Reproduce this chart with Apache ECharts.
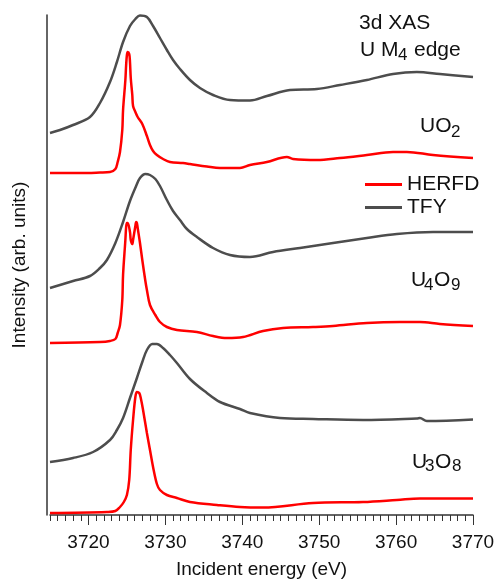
<!DOCTYPE html>
<html>
<head>
<meta charset="utf-8">
<script src="https://cdn.jsdelivr.net/npm/echarts@6/dist/echarts.min.js"></script>
<style>
  html, body { margin: 0; padding: 0; background: #fff; }
  #chart { width: 497px; height: 579px; }
</style>
</head>
<body>
<div id="chart"></div>
<script>
// energies (eV) / intensities (arb. units, offset per sample)
var uo2Tfy = [[3715,76.4],[3716.3,77.0],[3718.0,78.0],[3720.2,79.6],[3721.5,82.4],[3722.8,86.6],[3723.7,90.6],
  [3724.5,94.6],[3725.4,97.8],[3726.1,99.2],[3726.7,99.9],[3727.6,99.6],[3728.4,97.8],[3729.3,95.4],[3730.2,93.0],
  [3731.0,91.0],[3731.9,89.2],[3733.2,87.0],[3734.5,85.4],[3736.2,84.0],[3738.4,83.0],[3741.0,82.9],[3743.2,83.8],
  [3746.2,85.0],[3749.7,85.2],[3752.7,86.0],[3756.2,87.0],[3759.6,88.2],[3762.7,88.6],[3765.7,88.2],[3770.0,87.6]];

var uo2Herfd = [[3715,68.4],[3718.9,68.4],[3721.5,68.5],[3722.8,68.6],[3723.5,69.2],[3723.8,70.6],[3724.1,72.6],
  [3724.4,77.0],[3724.5,81.0],[3724.8,87.0],[3724.9,90.0],[3725.0,92.0],[3725.1,92.6],[3725.3,92.2],[3725.4,90.6],
  [3725.5,87.4],[3725.7,84.0],[3725.8,81.8],[3726.1,80.6],[3726.4,79.6],[3727.0,78.2],[3727.6,75.8],[3728.0,74.0],
  [3728.4,72.8],[3728.9,72.0],[3729.7,71.2],[3730.6,70.6],[3732.3,70.4],[3733.2,70.2],[3735.4,69.7],[3737.1,69.4],
  [3739.7,69.4],[3741.0,70.0],[3743.2,70.6],[3745.8,71.6],[3746.6,71.2],[3749.7,71.0],[3752.7,71.4],[3756.2,72.0],
  [3759.6,72.6],[3761.4,72.6],[3764.8,72.0],[3770.0,71.4]];

var u4o9Tfy = [[3715,45.4],[3718.0,46.8],[3720.2,47.8],[3721.5,49.4],[3722.4,51.0],[3723.5,54.4],[3724.5,58.6],
  [3725.4,62.8],[3726.2,65.8],[3726.7,67.4],[3727.4,68.2],[3728.0,68.0],[3728.7,67.2],[3729.3,65.8],[3730.2,63.0],
  [3731.0,60.8],[3731.9,59.0],[3732.8,57.2],[3734.1,55.6],[3736.2,53.4],[3738.4,52.0],[3741.0,51.6],[3744.0,52.6],
  [3747.5,53.4],[3751.8,54.4],[3756.2,55.4],[3760.1,56.2],[3764.8,56.6],[3770.0,56.6]];

var u4o9Herfd = [[3715,34.4],[3721.5,34.6],[3722.8,34.8],[3723.5,35.2],[3723.8,36.4],[3724.1,38.0],[3724.4,43.0],
  [3724.5,48.0],[3724.8,55.0],[3724.9,57.6],[3725.0,58.4],[3725.1,58.4],[3725.4,56.6],[3725.5,55.0],[3725.7,54.2],
  [3725.8,55.0],[3726.1,57.8],[3726.2,58.6],[3726.3,58.4],[3726.4,57.4],[3726.7,54.4],[3727.0,51.0],[3727.4,46.8],
  [3727.6,45.0],[3728.0,42.0],[3728.7,40.0],[3729.3,38.6],[3730.2,37.6],[3731.5,37.0],[3734.1,36.6],[3736.2,35.8],
  [3738.0,35.4],[3740.1,35.6],[3742.7,36.8],[3745.3,37.4],[3749.2,37.6],[3751.8,37.8],[3756.2,38.4],[3760.5,38.6],
  [3763.1,38.6],[3765.7,38.2],[3770.0,37.8]];

var u3o8Tfy = [[3715,10.6],[3718.0,11.4],[3720.6,12.6],[3722.8,15.0],[3723.7,17.0],[3724.5,19.4],[3725.4,23.4],
  [3726.3,27.4],[3727.0,30.6],[3727.6,33.0],[3728.3,34.2],[3728.9,34.2],[3729.7,33.4],[3730.6,32.0],[3731.5,30.4],
  [3733.2,27.2],[3735.4,24.4],[3737.1,22.6],[3739.7,21.2],[3741.0,20.4],[3744.9,19.4],[3749.2,19.2],[3755.7,19.0],
  [3762.7,19.3],[3763.1,19.4],[3764.0,18.8],[3770.0,19.1]];

var u3o8Herfd = [[3715,0.4],[3722.4,0.6],[3723.5,0.8],[3724.1,1.6],[3724.6,2.6],[3725.0,4.0],[3725.3,7.0],
  [3725.5,13.0],[3725.8,19.0],[3726.1,23.6],[3726.3,24.6],[3726.6,24.4],[3726.8,23.4],[3727.1,21.0],[3727.6,16.4],
  [3728.0,13.0],[3728.4,9.6],[3728.9,6.2],[3729.3,5.0],[3730.2,4.0],[3731.5,3.4],[3733.2,2.6],[3736.7,2.0],
  [3739.7,1.6],[3742.7,1.5],[3749.2,2.4],[3755.7,2.6],[3760.1,3.0],[3763.1,3.3],[3770.0,3.3]];

var majorTicks = [3720, 3730, 3740, 3750, 3760, 3770];

var RED = '#ff0000';
var GRAY = '#4d4d4d';
var FONT = '"Liberation Sans", Arial, sans-serif';

function line(name, data, color) {
    return {
        name: name,
        type: 'line',
        data: data,
        showSymbol: false,
        smooth: 0.35,
        xAxisIndex: 0,
        lineStyle: { color: color, width: 2.5 },
        itemStyle: { color: color }
    };
}

function label(txt, x, y, size) {
    return {
        type: 'text',
        style: {
            text: txt, x: x, y: y,
            font: size + 'px ' + FONT,
            fill: '#111',
            textAlign: 'left',
            textVerticalAlign: 'middle',
            verticalAlign: 'middle'
        }
    };
}

var myChart = echarts.init(document.getElementById('chart'));

var option = {
    animation: false,
    backgroundColor: '#fff',
    grid: { left: 50, right: 24, top: 15, bottom: 64, containLabel: false, outerBoundsMode: 'none' },
    legend: {
        data: ['HERFD', 'TFY'],
        orient: 'vertical',
        left: 360,
        top: 169,
        icon: 'rect',
        itemWidth: 37,
        itemHeight: 3,
        itemGap: 2,
        textStyle: { fontFamily: FONT, fontSize: 21, color: '#111', lineHeight: 21 }
    },
    xAxis: [
        {   // minor ticks every 1 eV
            type: 'value', position: 'bottom', min: 3715, max: 3770, interval: 1,
            axisLine: { show: true, lineStyle: { color: '#333', width: 1.5 } },
            axisTick: { show: true, length: 6, lineStyle: { color: '#333', width: 1 } },
            axisLabel: { show: false },
            splitLine: { show: false }
        },
        {   // major ticks + labels
            type: 'value', position: 'bottom', offset: 0, min: 3715, max: 3770,
            axisLine: { show: false },
            axisTick: { show: true, length: 10, customValues: majorTicks, lineStyle: { color: '#333', width: 1 } },
            axisLabel: {
                customValues: majorTicks, fontFamily: FONT, fontSize: 19, color: '#111', margin: 18,
                formatter: function (v) { return String(v); }
            },
            splitLine: { show: false },
            name: 'Incident energy (eV)',
            nameLocation: 'middle',
            nameGap: 45,
            nameTextStyle: { fontFamily: FONT, fontSize: 19, color: '#111' }
        }
    ],
    yAxis: {
        type: 'value', min: 0, max: 100,
        offset: 3,
        axisLine: { show: true, lineStyle: { color: '#333', width: 1.5 } },
        axisTick: { show: false },
        axisLabel: { show: false },
        splitLine: { show: false },
        name: 'Intensity (arb. units)',
        nameLocation: 'middle',
        nameGap: 18,
        nameTextStyle: { fontFamily: FONT, fontSize: 19, color: '#111' }
    },
    graphic: [
        label('3d XAS', 359, 23, 21),
        label('U M', 360, 50, 21),
        label('4', 398, 55, 17),
        label('edge', 414, 50, 21),
        label('UO', 420, 126, 21),
        label('2', 451, 132, 17),
        label('U', 411, 280, 21),
        label('4', 424, 285, 17),
        label('O', 434, 280, 21),
        label('9', 451, 285, 17),
        label('U', 412, 462, 21),
        label('3', 425, 466, 17),
        label('O', 435, 462, 21),
        label('8', 452, 466, 17)
    ],
    series: [
        line('TFY', uo2Tfy, GRAY),
        line('HERFD', uo2Herfd, RED),
        line('TFY', u4o9Tfy, GRAY),
        line('HERFD', u4o9Herfd, RED),
        line('TFY', u3o8Tfy, GRAY),
        line('HERFD', u3o8Herfd, RED)
    ]
};
myChart.setOption(option);
</script>
</body>
</html>
